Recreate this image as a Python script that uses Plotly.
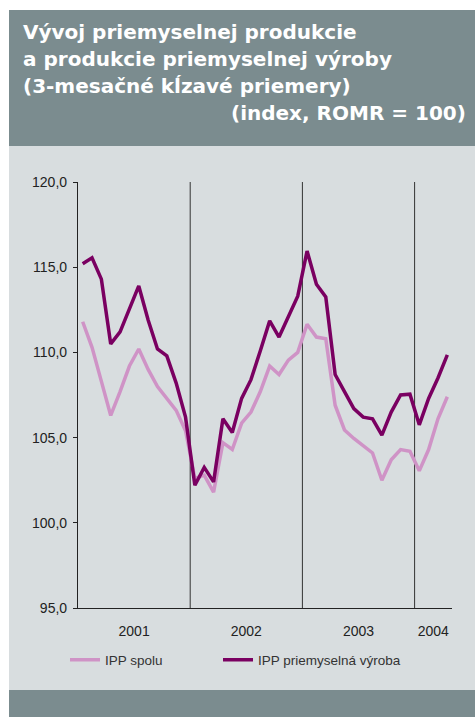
import plotly.graph_objects as go

# ---- data (3-month moving averages, index ROMR = 100), Jan 2001 .. Apr 2004 ----
months = list(range(40))
ipp_spolu = [111.8, 110.3, 108.3, 106.3, 107.7, 109.2, 110.2, 109.0, 108.0, 107.3, 106.6, 105.4,
             102.6, 102.8, 101.8, 104.7, 104.3, 105.85, 106.5, 107.7, 109.2, 108.7, 109.55, 110.0,
             111.65, 110.9, 110.8, 106.9, 105.45, 104.95, 104.5, 104.1, 102.5, 103.7, 104.3, 104.2,
             103.05, 104.3, 106.1, 107.4]
ipp_vyroba = [115.2, 115.55, 114.3, 110.5, 111.2, 112.55, 113.9, 111.9, 110.2, 109.8, 108.2, 106.2,
              102.2, 103.25, 102.4, 106.1, 105.3, 107.3, 108.4, 110.1, 111.85, 110.9, 112.1, 113.3,
              115.95, 114.0, 113.25, 108.7, 107.7, 106.7, 106.2, 106.1, 105.15, 106.5, 107.5, 107.55,
              105.75, 107.3, 108.5, 109.85]
year_labels = ["2001", "2002", "2003", "2004"]
year_centers = [5.5, 17.5, 29.5, 37.5]
year_breaks = [11.5, 23.5, 35.5]
y_ticks = [95, 100, 105, 110, 115, 120]

W, H = 475, 717
L, R, T, B = 78, 23, 182, 109
pw, ph = W - L - R, H - T - B

def px(x):
    return (x - L) / pw

def py(y):
    return (H - B - y) / ph

HEAD = "#7b8c8f"
BODY = "#d8dddf"
LIGHT = "#cf93c6"
DARK = "#7a0061"

fig = go.Figure()
fig.add_trace(go.Scatter(x=months, y=ipp_spolu, mode="lines", name="IPP spolu",
                         line=dict(color=LIGHT, width=3.5), legend="legend"))
fig.add_trace(go.Scatter(x=months, y=ipp_vyroba, mode="lines", name="IPP priemyselná výroba",
                         line=dict(color=DARK, width=3.5), legend="legend2"))

shapes = [
    dict(type="rect", xref="paper", yref="paper", x0=px(9), x1=px(476), y0=py(10), y1=py(146),
         fillcolor=HEAD, line=dict(width=0), layer="below"),
    dict(type="rect", xref="paper", yref="paper", x0=px(9), x1=px(476), y0=py(146), y1=py(690),
         fillcolor=BODY, line=dict(width=0), layer="below"),
    dict(type="rect", xref="paper", yref="paper", x0=px(9), x1=px(476), y0=py(690), y1=py(718),
         fillcolor=HEAD, line=dict(width=0), layer="below"),
]
for xb in year_breaks:
    shapes.append(dict(type="line", xref="x", yref="y", x0=xb, x1=xb, y0=95, y1=120,
                       line=dict(color="#333333", width=1), layer="below"))

title_font = dict(family="DejaVu Sans", size=20, color="white")
annotations = [
    dict(text="<b>Vývoj priemyselnej produkcie</b>", x=px(21), y=py(32), xanchor="left", yanchor="middle"),
    dict(text="<b>a produkcie priemyselnej výroby</b>", x=px(21), y=py(59), xanchor="left", yanchor="middle"),
    dict(text="<b>(3-mesačné kĺzavé priemery)</b>", x=px(21), y=py(86), xanchor="left", yanchor="middle"),
    dict(text="<b>(index, ROMR = 100)</b>", x=px(468), y=py(113), xanchor="right", yanchor="middle"),
]
annotations = [dict(a, xref="paper", yref="paper", showarrow=False, font=title_font) for a in annotations]

legend_common = dict(orientation="h", yanchor="middle", xanchor="left",
                     bgcolor="rgba(0,0,0,0)", font=dict(family="Arial", size=13.5, color="#333333"))

fig.update_layout(
    width=W, height=H,
    margin=dict(l=L, r=R, t=T, b=B, pad=0),
    paper_bgcolor="white", plot_bgcolor=BODY,
    shapes=shapes, annotations=annotations,
    font=dict(family="Arial", size=14, color="#222222"),
    showlegend=True,
    legend=dict(legend_common, x=px(65), y=py(660)),
    legend2=dict(legend_common, x=px(218), y=py(660)),
    xaxis=dict(range=[-0.5, 39.5], tickmode="array", tickvals=year_centers, ticktext=year_labels,
               ticks="", showgrid=False, zeroline=False, showline=True, linecolor="#222222",
               linewidth=1.2, ticklabelstandoff=10, fixedrange=True),
    yaxis=dict(range=[95, 120], tickmode="array", tickvals=y_ticks,
               ticktext=[f"{v},0" for v in y_ticks], ticks="outside", ticklen=4,
               tickcolor="#222222", showgrid=False, zeroline=False, showline=True,
               linecolor="#222222", linewidth=1.2, ticklabelstandoff=3, fixedrange=True),
)

fig.write_html("out.html", config={"displayModeBar": False},
               post_script="document.body.style.margin='0';document.body.style.overflow='hidden';")
